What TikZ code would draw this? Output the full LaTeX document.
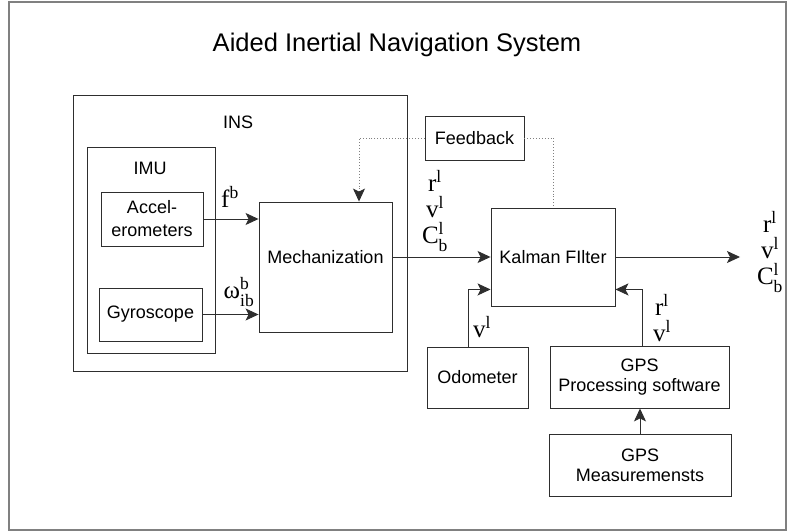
\documentclass[tikz,border=0pt]{standalone}
\usepackage{amsmath}
\usepackage{fontspec}
\setmainfont{Liberation Sans}
\newfontfamily\lblfont{Liberation Serif}
\usetikzlibrary{arrows.meta}
\definecolor{dgray}{HTML}{2E2E2E}
\definecolor{fgray}{HTML}{808080}
\newcommand{\supsub}[3]{#1$^{\text{#2}}_{\text{#3}}$}

\begin{document}
\begin{tikzpicture}[x=1pt, y=-1pt, font=\fontsize{18}{20}\selectfont,
  box/.style={draw=dgray, line width=0.9pt, align=center, inner sep=0pt},
  lbl/.style={font=\fontsize{25}{26}\selectfont\lblfont, align=center, inner sep=0pt},
  arr/.style={-{Stealth[length=13pt, width=12pt, inset=3pt]}, dgray, line width=0.9pt},
  fbline/.style={dotted, line width=0.9pt, fgray}]
\useasboundingbox (0,0) rectangle (787,532);
\draw[fgray, line width=1.2pt] (9,2) rectangle (786,530);
\node[font=\fontsize{25.5}{30}\selectfont] (title) at (397,45) {Aided Inertial Navigation System};
% INS block
\node[box, minimum width=334pt, minimum height=276pt] (ins) at (240,233) {};
\node (inslbl) at (238,122) {INS};
\node[box, minimum width=128pt, minimum height=206pt] (imu) at (151,250) {};
\node (imulbl) at (150,168) {IMU};
\node[box, minimum width=102pt, minimum height=54pt, font=\fontsize{18}{23}\selectfont] (acc) at (152,219) {Accel-\\erometers};
\node[box, minimum width=103pt, minimum height=53pt] (gyro) at (150.5,314.5) {Gyroscope};
\node[box, minimum width=133pt, minimum height=130pt, text depth=20pt] (mech) at (325.5,267) {Mechanization};
% filter and aiding sensors
\node[box, minimum width=99pt, minimum height=44pt] (fback) at (474.5,138) {Feedback};
\node[box, minimum width=124pt, minimum height=98pt] (kf) at (553,257) {Kalman FIlter};
\node[box, minimum width=101pt, minimum height=61pt] (odo) at (477.5,377.5) {Odometer};
\node[box, minimum width=179pt, minimum height=62pt] (gpsp) at (639.5,377) {GPS\\Processing software};
\node[box, minimum width=182pt, minimum height=62pt] (gpsm) at (640,465) {GPS\\Measuremensts};
\coordinate (out) at (740,257);
% signal labels
\node[lbl] (fblbl) at (230,197) {f$^{\text{b}}$};
\node[lbl] (wlbl) at (239,292) {\supsub{ω}{b}{ib}};
\node[lbl] (mechout) at (435,211) {r$^{\text{l}}$\\v$^{\text{l}}$\\\supsub{C}{l}{b}};
\node[lbl] (kfout) at (770,252) {r$^{\text{l}}$\\v$^{\text{l}}$\\\supsub{C}{l}{b}};
\node[lbl] (odolbl) at (482,327) {v$^{\text{l}}$};
\node[lbl] (gpslbl) at (662,318) {r$^{\text{l}}$\\v$^{\text{l}}$};
% connectors
\draw[arr] (acc.east) -- (acc.east -| mech.west);
\draw[arr] (gyro.east) -- (gyro.east -| mech.west);
\draw[arr] (mech.east |- kf.west) -- (kf.west);
\draw[arr] (kf.east) -- (out);
\draw[arr] ([xshift=-9.5pt]odo.north) |- ([yshift=17pt]kf.south west);
\draw[arr] ([xshift=2.5pt]gpsp.north) |- ([yshift=17pt]kf.south east);
\draw[arr] (gpsm.north) -- (gpsm.north |- gpsp.south);
\draw[fbline, -{Stealth[length=13pt, width=12pt, inset=3pt, color=dgray]}] (fback.west) -| ([xshift=33.5pt]mech.north);
\draw[fbline] (fback.east) -| (kf.north);
\end{tikzpicture}
\end{document}
